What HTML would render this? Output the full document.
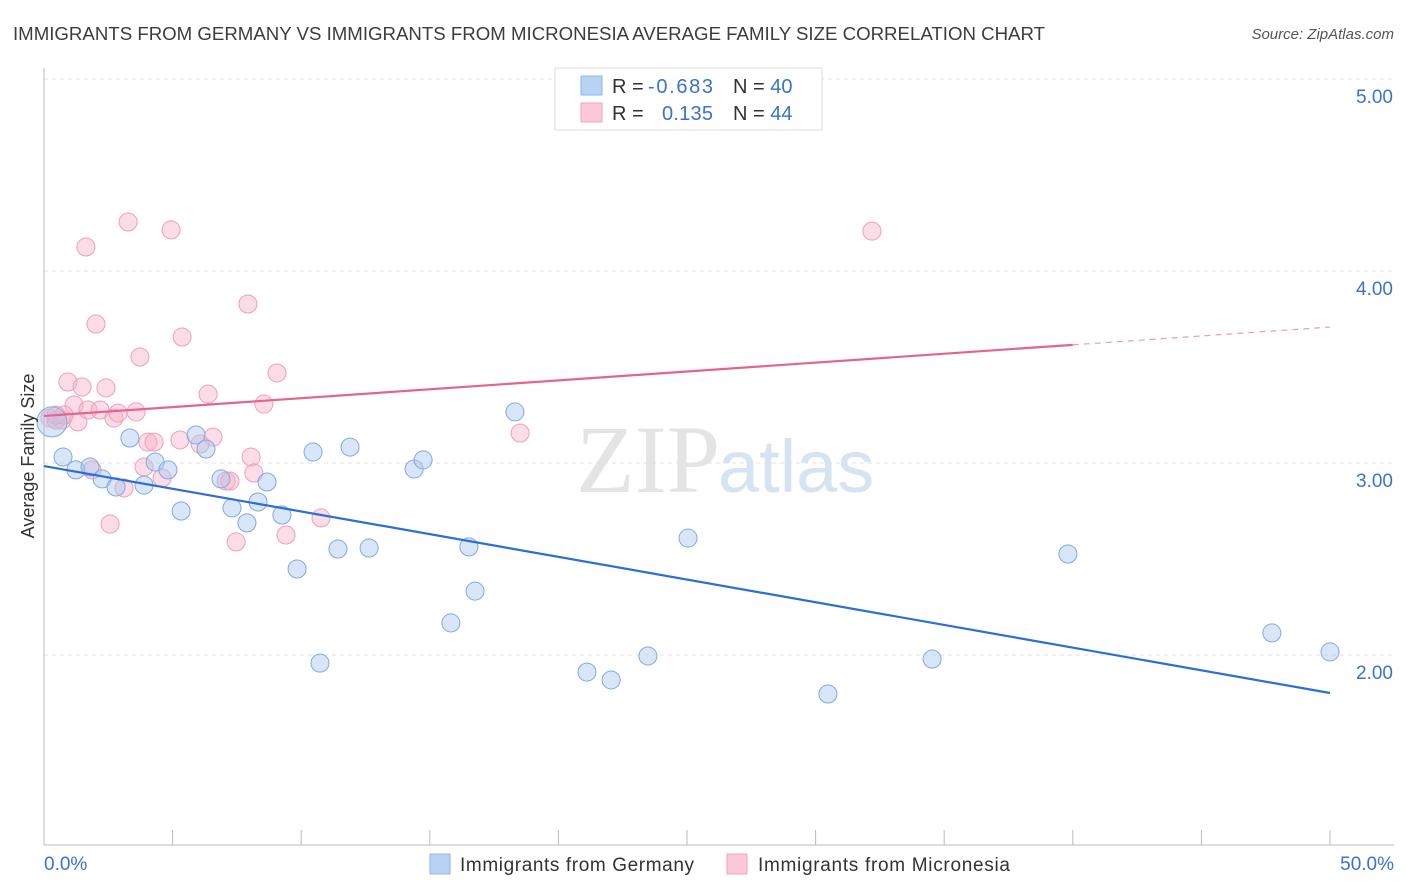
<!DOCTYPE html>
<html><head><meta charset="utf-8">
<style>
body{margin:0;background:#fff;font-family:"Liberation Sans",sans-serif;}
svg{display:block}
</style></head><body>
<svg id="chart" width="1406" height="892" viewBox="0 0 1406 892" xmlns="http://www.w3.org/2000/svg">
<text x="13" y="40" font-size="18" fill="#3c3c3c" textLength="1032" lengthAdjust="spacingAndGlyphs">IMMIGRANTS FROM GERMANY VS IMMIGRANTS FROM MICRONESIA AVERAGE FAMILY SIZE CORRELATION CHART</text>
<text x="1394" y="39" font-size="15" fill="#555" font-style="italic" text-anchor="end">Source: ZipAtlas.com</text>
<text x="720" y="492" font-size="96" fill="#e4e4e4" text-anchor="end" font-family="Liberation Serif, serif">ZIP</text>
<text x="718" y="492" font-size="74" fill="#d6e3f3">atlas</text>
<g id="grid"></g>
<g id="axes"></g>
<g id="pinkPts"></g>
<g id="bluePts"></g>
<g id="trends"></g>
<text transform="translate(34,456) rotate(-90)" font-size="18" fill="#333" text-anchor="middle">Average Family Size</text>
<g>
<rect x="555" y="68" width="267" height="62" fill="#fff" stroke="#ddd"/>
<rect x="581" y="76" width="21" height="19" fill="#b9d3f5" stroke="#8fb6ea"/>
<rect x="581" y="103" width="21" height="19" fill="#fbc9d8" stroke="#f1a3bb"/>
<text x="612" y="93" font-size="20" fill="#333">R = </text>
<text x="648" y="93" font-size="20" fill="#3a72d0" textLength="65">-0.683</text>
<text x="733" y="93" font-size="20" fill="#333">N = <tspan fill="#3a72d0">40</tspan></text>
<text x="612" y="120" font-size="20" fill="#333">R = </text>
<text x="662" y="120" font-size="20" fill="#3a72d0" textLength="51">0.135</text>
<text x="733" y="120" font-size="20" fill="#333">N = <tspan fill="#3a72d0">44</tspan></text>
</g>
<g>
<rect x="430" y="854" width="20" height="20" fill="#b9d3f5" stroke="#8fb6ea"/>
<text x="460" y="871" font-size="19" fill="#333" textLength="234">Immigrants from Germany</text>
<rect x="727" y="854" width="20" height="20" fill="#fbc9d8" stroke="#f1a3bb"/>
<text x="758" y="871" font-size="19" fill="#333" textLength="252">Immigrants from Micronesia</text>
</g>
</svg>
<script>
const blueX=[0.31,0.74,1.24,1.79,2.26,2.80,3.34,3.89,4.32,4.82,5.33,5.91,6.30,6.88,7.31,7.89,8.32,8.67,9.25,9.84,10.46,10.73,11.43,11.90,12.64,14.39,14.74,15.82,16.52,16.76,18.31,21.11,22.05,23.48,25.04,30.48,34.53,39.81,47.74,50.0];
const blueY=[3.214,3.031,2.964,2.979,2.917,2.875,3.130,2.885,3.005,2.964,2.750,3.146,3.073,2.917,2.766,2.688,2.797,2.901,2.729,2.448,3.057,1.958,2.552,3.083,2.557,2.969,3.016,2.167,2.563,2.333,3.266,1.911,1.870,1.995,2.609,1.797,1.979,2.526,2.115,2.016];
const pinkX=[0.23,0.47,0.70,0.93,1.17,1.32,1.48,1.63,1.71,2.02,2.18,2.41,2.57,2.72,2.88,3.11,3.27,3.58,3.73,3.89,4.04,4.28,4.59,4.94,5.29,5.37,6.07,6.38,6.57,7.08,7.23,7.47,7.93,8.05,8.16,8.55,9.06,9.41,10.77,18.51,32.19,1.87,0.78,0.47];
const pinkY=[3.234,3.224,3.224,3.422,3.302,3.214,3.396,4.125,3.276,3.724,3.276,3.391,2.682,3.234,3.260,2.870,4.255,3.266,3.552,2.979,3.109,3.109,2.922,4.214,3.120,3.656,3.099,3.359,3.135,2.906,2.906,2.589,3.828,3.031,2.948,3.307,3.469,2.625,2.714,3.156,4.208,2.964,3.250,3.250];
const blueTrend=[2.984,1.802];
const pinkTrend=[3.245,3.708];
const yTicks=[2,3,4,5];
const yTickLabels=["2.00","3.00","4.00","5.00"];
const xTickLabels=["0.0%","50.0%"];
const NS="http://www.w3.org/2000/svg";
const sx=v=>44+v/50*1286;
const sy=v=>79+(5-v)*192;
function mk(t,a,p){const e=document.createElementNS(NS,t);for(const k in a)e.setAttribute(k,a[k]);p.appendChild(e);return e;}
const grid=document.getElementById('grid'),axes=document.getElementById('axes');
yTicks.forEach((v,i)=>{
 const l=mk('line',{x1:44,x2:1394,y1:sy(v),y2:sy(v),stroke:'#e2e2e2','stroke-dasharray':'4,4'},grid);
 
 
 const t=mk('text',{x:1393,y:sy(v)+24,'font-size':19,fill:'#3a72d0','text-anchor':'end'},axes);
 t.textContent=yTickLabels[i];
 
 
});
mk('line',{x1:44,x2:44,y1:68,y2:845,stroke:'#bbb'},axes);
mk('line',{x1:44,x2:1394,y1:845,y2:845,stroke:'#bbb'},axes);
for(let i=0;i<=10;i++){const tk=mk('line',{x1:sx(i*5),x2:sx(i*5),y1:830,y2:845,stroke:'#bbb'},axes);
 
 }
const xl0=mk('text',{x:44,y:870,'font-size':19,fill:'#3a72d0'},axes);xl0.textContent=xTickLabels[0];


const xl1=mk('text',{x:1394,y:870,'font-size':19,fill:'#3a72d0','text-anchor':'end'},axes);xl1.textContent=xTickLabels[1];


const pg=document.getElementById('pinkPts'),bg=document.getElementById('bluePts');
pinkX.forEach((x,i)=>{const c=mk('circle',{cx:sx(x),cy:sy(pinkY[i]),r:9,fill:'rgba(248,177,199,0.45)',stroke:'#ef9fb8','stroke-width':1},pg);
 
 });
blueX.forEach((x,i)=>{const c=mk('circle',{cx:sx(x),cy:sy(blueY[i]),r:i===0?15:9,fill:'rgba(170,200,240,0.45)',stroke:'#7fa9e4','stroke-width':1},bg);
 
 });
const tg=document.getElementById('trends');
const bt=mk('line',{x1:sx(0),y1:sy(blueTrend[0]),x2:sx(50),y2:sy(blueTrend[1]),stroke:'#2a6fd6','stroke-width':2.2},tg);


const pAt=x=>pinkTrend[0]+(pinkTrend[1]-pinkTrend[0])*x/50;
const pt=mk('line',{x1:sx(0),y1:sy(pAt(0)),x2:sx(40),y2:sy(pAt(40)),stroke:'#e5638f','stroke-width':2.2},tg);


const pd=mk('line',{x1:sx(40),y1:sy(pAt(40)),x2:sx(50),y2:sy(pAt(50)),stroke:'#ec9ab5','stroke-width':1.2,'stroke-dasharray':'6,5'},tg);


</script>
</body></html>
